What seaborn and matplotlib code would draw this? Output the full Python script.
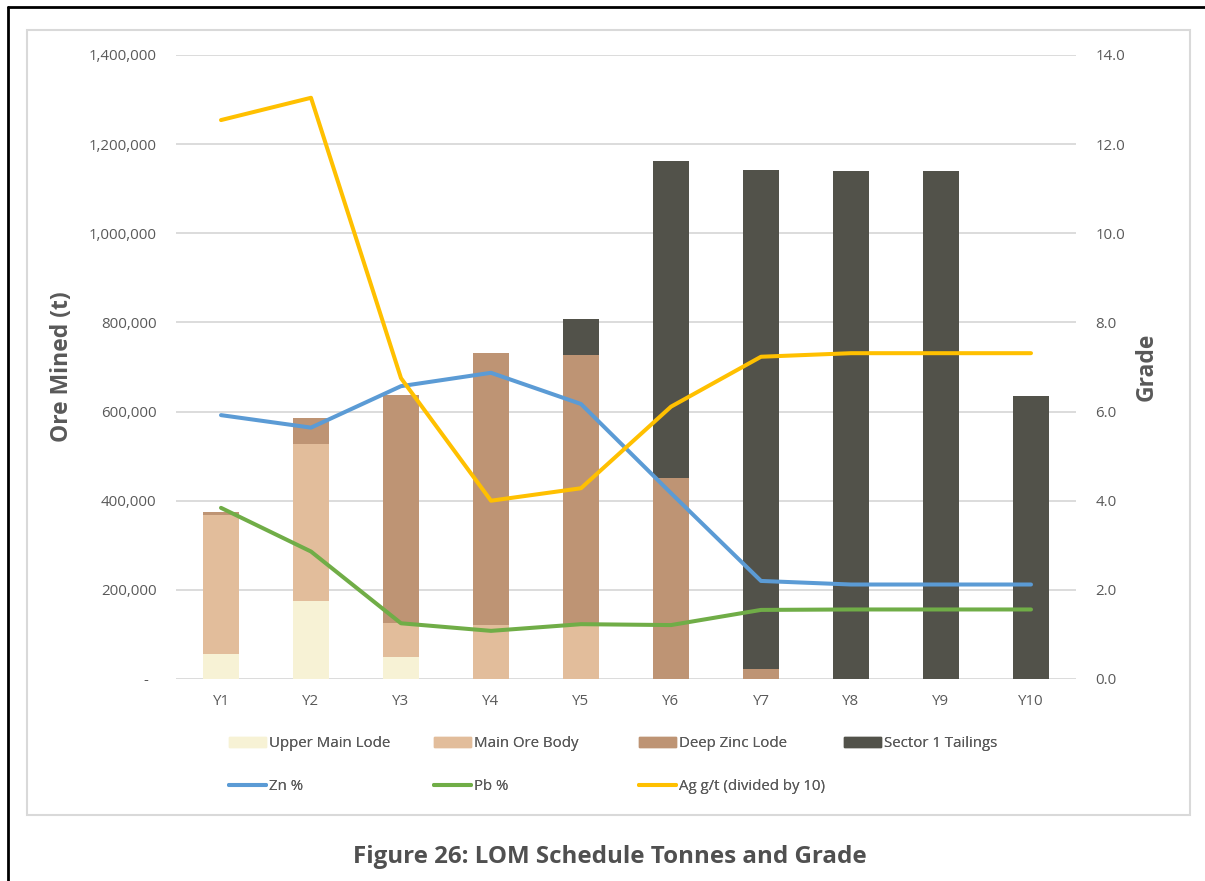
import numpy as np
import pandas as pd
import matplotlib
matplotlib.use("Agg")
import matplotlib.pyplot as plt
from matplotlib.patches import Patch
from matplotlib.lines import Line2D
from matplotlib.ticker import FuncFormatter, MultipleLocator
import seaborn as sns

# ---- schedule data ----
years = ["Y1", "Y2", "Y3", "Y4", "Y5", "Y6", "Y7", "Y8", "Y9", "Y10"]
upper_main_lode = [57000, 175000, 50000, 0, 0, 0, 0, 0, 0, 0]
main_ore_body = [312000, 352000, 75000, 121000, 120000, 0, 0, 0, 0, 0]
deep_zinc_lode = [5000, 58000, 512000, 610000, 606000, 452000, 22000, 0, 0, 0]
sector1_tailings = [0, 0, 0, 0, 81000, 711000, 1120000, 1140000, 1140000, 636000]

zn_pct = [5.92, 5.64, 6.57, 6.87, 6.17, 4.17, 2.20, 2.12, 2.12, 2.12]
pb_pct = [3.84, 2.86, 1.25, 1.08, 1.23, 1.21, 1.55, 1.56, 1.56, 1.56]
ag_gt_div10 = [12.54, 13.04, 6.75, 4.00, 4.28, 6.11, 7.23, 7.31, 7.31, 7.31]

# ---- styling ----
C_UML = "#F7F2D5"
C_MOB = "#E2BD9B"
C_DZL = "#BE9474"
C_S1T = "#52524A"
C_ZN = "#5B9BD5"
C_PB = "#70AD47"
C_AG = "#FFC000"
GRID = "#D9D9D9"
TXT = "#595959"
FS = 10.8

sns.set_style("white")
plt.rcParams["font.family"] = ["Open Sans", "DejaVu Sans"]

W, H = 1205, 881
fig = plt.figure(figsize=(W / 100, H / 100), dpi=100)

ax = fig.add_axes([176 / W, 1 - 679 / H, 900 / W, 624 / H])

df = pd.DataFrame({
    "year": years,
    "uml": upper_main_lode,
    "mob": main_ore_body,
    "dzl": deep_zinc_lode,
    "s1t": sector1_tailings,
})
df["c1"] = df["uml"]
df["c2"] = df["c1"] + df["mob"]
df["c3"] = df["c2"] + df["dzl"]
df["c4"] = df["c3"] + df["s1t"]

# stacked bars: cumulative totals drawn back to front
for col, colr in [("c4", C_S1T), ("c3", C_DZL), ("c2", C_MOB), ("c1", C_UML)]:
    sns.barplot(data=df, x="year", y=col, color=colr, width=0.4,
                saturation=1, ax=ax, order=years, linewidth=0)

ax.set_xlim(-0.5, 9.5)
ax.set_ylim(0, 1400000)
ax.yaxis.set_major_locator(MultipleLocator(200000))
ax.yaxis.set_major_formatter(FuncFormatter(
    lambda v, p: "-  " if v == 0 else f"{int(v):,}"))
ax.grid(axis="y", color=GRID, linewidth=1.3)
ax.set_axisbelow(True)
for s in ax.spines.values():
    s.set_visible(False)
ax.tick_params(axis="both", length=0, labelsize=FS, labelcolor=TXT)
ax.tick_params(axis="y", pad=14)
ax.tick_params(axis="x", pad=11)
ax.set_xlabel("")
ax.set_ylabel("Ore Mined (t)", fontsize=16.5, fontweight="bold", color=TXT)
ax.yaxis.set_label_coords(-0.113, 0.5)

# grade lines on the secondary axis
ax2 = ax.twinx()
pos = np.arange(len(years))
lines_df = pd.DataFrame({"pos": pos, "zn": zn_pct, "pb": pb_pct, "ag": ag_gt_div10})
for col, colr in [("zn", C_ZN), ("pb", C_PB), ("ag", C_AG)]:
    sns.lineplot(data=lines_df, x="pos", y=col, color=colr, linewidth=2.9,
                 sort=False, ax=ax2, solid_capstyle="round",
                 solid_joinstyle="round")
ax2.set_ylim(0, 14)
ax2.set_xlim(-0.5, 9.5)
ax2.yaxis.set_major_locator(MultipleLocator(2))
ax2.yaxis.set_major_formatter(FuncFormatter(lambda v, p: f"{v:.1f}"))
for s in ax2.spines.values():
    s.set_visible(False)
ax2.tick_params(axis="y", length=0, labelsize=FS, labelcolor=TXT, pad=14)
ax2.set_xlabel("")
ax2.set_ylabel("Grade", fontsize=16.5, fontweight="bold", color=TXT)
ax2.yaxis.set_label_coords(1.065, 0.5)

# legend: one column per slot, bars on the first row, grade lines on the second
def line_handle(c):
    return Line2D([], [], color=c, lw=2.9, solid_capstyle="round")

legend_cols = [
    (229, [Patch(color=C_UML), line_handle(C_ZN)], ["Upper Main Lode", "Zn %"]),
    (434, [Patch(color=C_MOB), line_handle(C_PB)], ["Main Ore Body", "Pb %"]),
    (639, [Patch(color=C_DZL), line_handle(C_AG)], ["Deep Zinc Lode", "Ag g/t (divided by 10)"]),
    (844, [Patch(color=C_S1T)], ["Sector 1 Tailings"]),
]
for x0, hs, ls in legend_cols:
    leg = fig.legend(hs, ls, loc="upper left",
                     bbox_to_anchor=(x0 / W, 1 - 736 / H), ncol=1,
                     frameon=False, borderpad=0, borderaxespad=0,
                     handlelength=2.45, handletextpad=0.22, labelspacing=1.85,
                     fontsize=FS)
    for t in leg.get_texts():
        t.set_color(TXT)
    fig.add_artist(leg)

# chart area border and outer page frame
fig.add_artist(plt.Rectangle((27 / W, 1 - 815 / H), (1190 - 27) / W, (815 - 30) / H,
                             transform=fig.transFigure, fill=False,
                             edgecolor=GRID, linewidth=1.5))
fig.add_artist(Line2D([8 / W, 8 / W], [0, 1 - 7 / H], transform=fig.transFigure,
                      color="black", linewidth=2))
fig.add_artist(Line2D([8 / W, 1], [1 - 7 / H, 1 - 7 / H], transform=fig.transFigure,
                      color="black", linewidth=2))

fig.text(610 / W, 1 - 857 / H, "Figure 26: LOM Schedule Tonnes and Grade",
         ha="center", va="center", fontsize=17.4, fontweight="bold", color="#505050")

fig.savefig("out.png", dpi=100)
